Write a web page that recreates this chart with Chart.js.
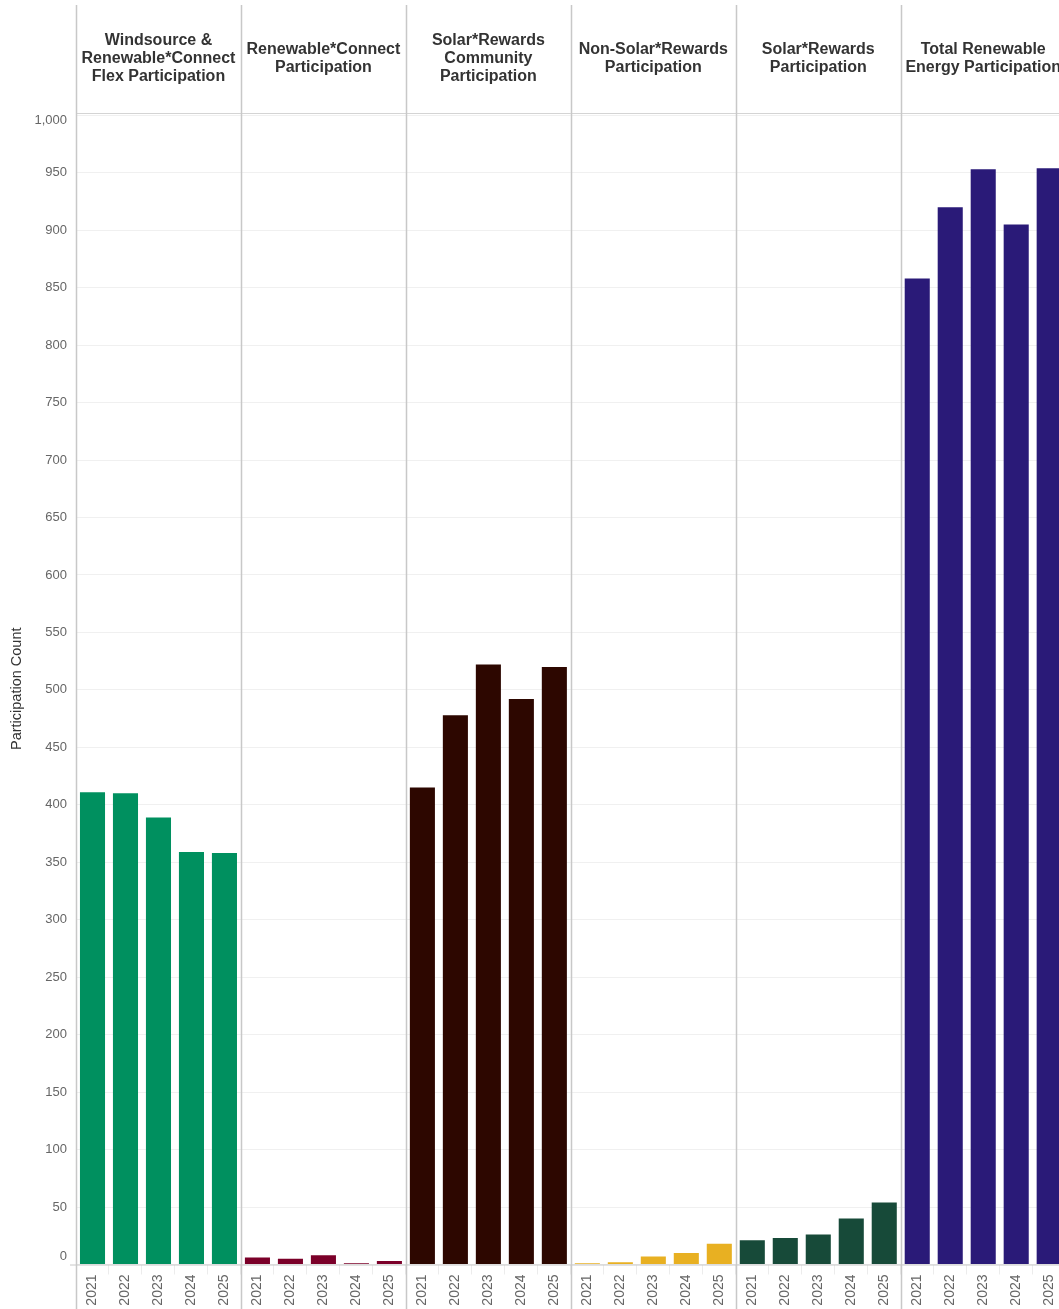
<!DOCTYPE html>
<html>
<head>
<meta charset="utf-8">
<script src="https://cdn.jsdelivr.net/npm/chart.js@4"></script>
<style>
  html, body { margin: 0; padding: 0; background: #fff; overflow: hidden; }
  #wrap { position: relative; width: 1066px; height: 1309px; }
</style>
</head>
<body>
<div id="wrap"><canvas id="myChart"></canvas></div>
<script>
const years = ['2021', '2022', '2023', '2024', '2025'];
const panelTitles = [
  ['Windsource &', 'Renewable*Connect', 'Flex Participation'],
  ['Renewable*Connect', 'Participation'],
  ['Solar*Rewards', 'Community', 'Participation'],
  ['Non-Solar*Rewards', 'Participation'],
  ['Solar*Rewards', 'Participation'],
  ['Total Renewable', 'Energy Participation']
];
const windsourceFlex = [411, 410, 389, 359, 358];
const renewableConnect = [6, 5, 8, 1, 3];
const solarRewardsCommunity = [415, 478, 522, 492, 520];
const nonSolarRewards = [1, 2, 7, 10, 18];
const solarRewards = [21, 23, 26, 40, 54];
const totalRenewable = [858, 920, 953, 905, 954];
const yTicks = [0, 50, 100, 150, 200, 250, 300, 350, 400, 450, 500,
  550, 600, 650, 700, 750, 800, 850, 900, 950, 1000];
const panelColors = ['#00905f', '#7b0029', '#2d0700', '#e8b022', '#174a39', '#2a1a78'];

const series = [windsourceFlex, renewableConnect, solarRewardsCommunity, nonSolarRewards, solarRewards, totalRenewable];
const labels = [];
const values = [];
const colors = [];
series.forEach((s, p) => {
  s.forEach((v, i) => {
    labels.push(years[i]);
    values.push(v);
    colors.push(panelColors[p]);
  });
});

const FONT = '"Liberation Sans", Arial, sans-serif';
const yMin = yTicks[0];
const yMax = yTicks[yTicks.length - 1];

// panel separators, header titles, baseline and the two edge tick labels
const panelPlugin = {
  id: 'panels',
  afterDraw(chart) {
    const c = chart.ctx;
    const area = chart.chartArea;
    const ys = chart.scales.y;
    const slot = (area.right - area.left) / labels.length;
    const y0 = ys.getPixelForValue(yMin);
    c.save();
    // header bottom line
    c.strokeStyle = '#d4d4d4';
    c.lineWidth = 1;
    c.beginPath();
    c.moveTo(area.left, area.top + 0.5);
    c.lineTo(area.right, area.top + 0.5);
    c.stroke();
    // baseline
    c.strokeStyle = '#c8c8c8';
    c.beginPath();
    c.moveTo(area.left - 6, y0 + 0.5);
    c.lineTo(area.right, y0 + 0.5);
    c.stroke();
    // separators
    c.lineWidth = 1.5;
    for (let k = 0; k < series.length; k++) {
      const x = Math.round(area.left + k * 5 * slot) + 0.5;
      c.beginPath();
      c.moveTo(x, 5);
      c.lineTo(x, chart.height);
      c.stroke();
    }
    // edge tick labels, kept inside the axis like the original
    c.fillStyle = '#666';
    c.font = '13px ' + FONT;
    c.textAlign = 'right';
    c.textBaseline = 'middle';
    c.fillText(yMin.toLocaleString('en-US'), area.left - 9, y0 - 8);
    c.fillText(yMax.toLocaleString('en-US'), area.left - 9, ys.getPixelForValue(yMax) + 5);
    // titles
    c.fillStyle = '#333';
    c.font = 'bold 16px ' + FONT;
    c.textAlign = 'center';
    panelTitles.forEach((lines, k) => {
      const cx = area.left + (k * 5 + 2.5) * slot;
      const start = 59 - (lines.length - 1) * 9;
      lines.forEach((t, j) => c.fillText(t, cx, start + j * 18));
    });
    c.restore();
  }
};

new Chart(document.getElementById('myChart'), {
  type: 'bar',
  data: {
    labels: labels,
    datasets: [{
      label: 'Participation Count',
      data: values,
      backgroundColor: colors,
      borderWidth: 0,
      barPercentage: 0.76,
      categoryPercentage: 1
    }]
  },
  options: {
    responsive: true,
    maintainAspectRatio: false,
    animation: false,
    layout: { padding: { top: 113, right: 0, left: 0, bottom: 0 } },
    plugins: {
      legend: { display: false },
      tooltip: { enabled: false }
    },
    scales: {
      x: {
        afterFit(scale) { scale.height = 44.5; },
        border: { display: false },
        grid: { drawOnChartArea: false, drawTicks: true, tickLength: 10, color: '#ececec' },
        ticks: {
          autoSkip: false,
          minRotation: 90,
          maxRotation: 90,
          padding: 0,
          color: '#666',
          font: { family: FONT, size: 14 }
        }
      },
      y: {
        min: 0,
        max: 1002,
        afterFit(scale) { scale.width = 76; },
        afterBuildTicks(scale) { scale.ticks = yTicks.map(v => ({ value: v })); },
        border: { display: false },
        grid: { color: '#f0f0f0', drawTicks: false },
        ticks: {
          padding: 9,
          color: '#666',
          font: { family: FONT, size: 13 },
          callback: (v) => (v === yMin || v === yMax ? '' : v.toLocaleString('en-US'))
        },
        title: {
          display: true,
          text: 'Participation Count',
          color: '#333',
          padding: { top: 8, bottom: 0 },
          font: { family: FONT, size: 14.5 }
        }
      }
    }
  },
  plugins: [panelPlugin]
});
</script>
</body>
</html>
